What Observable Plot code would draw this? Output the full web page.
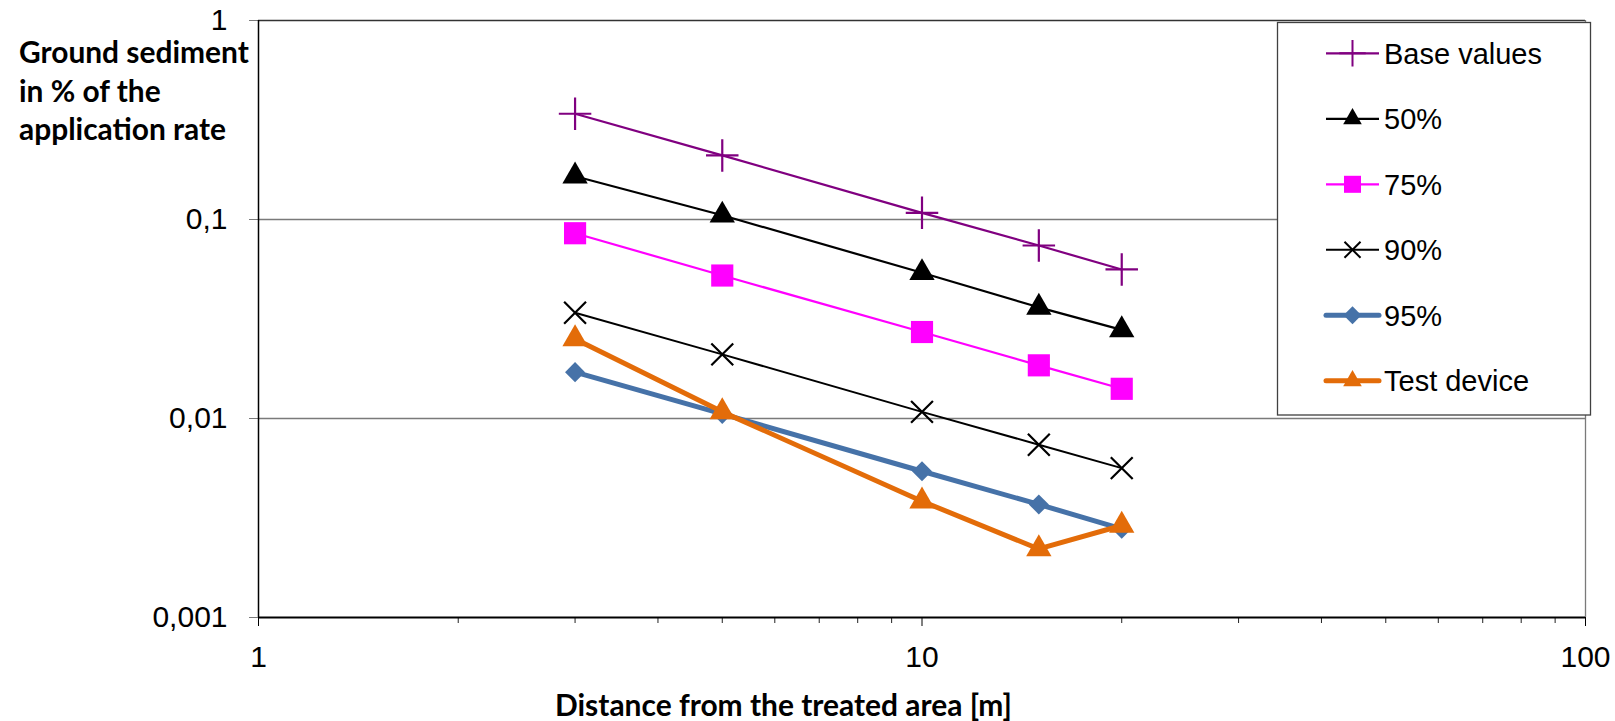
<!DOCTYPE html>
<html>
<head>
<meta charset="utf-8">
<script src="https://cdn.jsdelivr.net/npm/d3@7"></script>
<script src="https://cdn.jsdelivr.net/npm/@observablehq/plot@0.6"></script>
<style>
  html, body { margin: 0; padding: 0; background: #ffffff; }
  #wrap { position: relative; width: 1615px; height: 721px; overflow: hidden; }
  #overlay { position: absolute; left: 0; top: 0; pointer-events: none; }
</style>
</head>
<body>
<div id="wrap"></div>
<script>
// ---------- data ----------
const distances   = [3, 5, 10, 15, 20];
const baseValues  = [0.340, 0.210, 0.108, 0.0740, 0.0561];
const pct50       = [0.165, 0.105, 0.0540, 0.0362, 0.0279];
const pct75       = [0.0853, 0.0523, 0.0272, 0.0185, 0.0141];
const pct90       = [0.0340, 0.0210, 0.0108, 0.00738, 0.00563];
const pct95       = [0.0171, 0.01055, 0.00543, 0.00370, 0.00279];
const testDevice  = [0.0251, 0.0108, 0.00384, 0.00221, 0.00290];
const seriesNames = ["Base values", "50%", "75%", "90%", "95%", "Test device"];
const seriesValues = [baseValues, pct50, pct75, pct90, pct95, testDevice];

const xMajorTicks = [1, 10, 100];
const xMinorTicks = [2, 3, 4, 5, 6, 7, 8, 9, 20, 30, 40, 50, 60, 70, 80, 90];
const yTicks = [0.001, 0.01, 0.1, 1];
const yGrid = [0.01, 0.1];

const yTitleLines = ["Ground sediment", "in % of the", "application rate"];
const xTitle = "Distance from the treated area [m]";

// ---------- styles ----------
const diamondSymbol = {
  draw(context, size) {
    const r = Math.sqrt(size / 2);
    context.moveTo(0, -r); context.lineTo(r, 0); context.lineTo(0, r); context.lineTo(-r, 0); context.closePath();
  }
};
const styles = [
  {color: "#800080", width: 2.2, symbol: "plus",     r: 10.5, filled: false, legendSize: 230, legendSym: d3.symbolPlus},
  {color: "#000000", width: 2.2, symbol: "triangle", r: 9.4,  filled: true,  legendSize: 150, legendSym: d3.symbolTriangle},
  {color: "#FF00FF", width: 2.2, symbol: "square",   r: 12.5, filled: true,  legendSize: 290, legendSym: d3.symbolSquare},
  {color: "#000000", width: 2.0, symbol: "times",    r: 10,   filled: false, legendSize: 170, legendSym: d3.symbolTimes},
  {color: "#4672A8", width: 5.0, symbol: diamondSymbol, r: 8, filled: true,  legendSize: 160, legendSym: diamondSymbol},
  {color: "#E36C09", width: 5.0, symbol: "triangle", r: 9.4,  filled: true,  legendSize: 150, legendSym: d3.symbolTriangle}
];

// ---------- chart ----------
const seriesMarks = [];
seriesNames.forEach((name, i) => {
  const rows = distances.map((d, j) => ({series: name, x: d, y: seriesValues[i][j]}));
  const s = styles[i];
  seriesMarks.push(Plot.line(rows, {x: "x", y: "y", stroke: s.color, strokeWidth: s.width, strokeLinejoin: "round", strokeLinecap: "round"}));
  seriesMarks.push(Plot.dot(rows, s.filled
    ? {x: "x", y: "y", symbol: s.symbol, r: s.r, fill: s.color, stroke: "none"}
    : {x: "x", y: "y", symbol: s.symbol, r: s.r, fill: "none", stroke: s.color, strokeWidth: 2.2}));
});

const chart = Plot.plot({
  width: 1615,
  height: 721,
  marginLeft: 258,
  marginRight: 30,
  marginTop: 20,
  marginBottom: 104,
  style: {fontFamily: "'Liberation Sans', Arial, sans-serif", fontSize: "30px", color: "#000", background: "#fff", overflow: "visible"},
  x: {type: "log", domain: [1, 100]},
  y: {type: "log", domain: [0.001, 1]},
  marks: [
    Plot.ruleY(yGrid, {stroke: "#7a7a7a", strokeWidth: 1.3}),
    Plot.ruleY([1], {stroke: "#333", strokeWidth: 1.6}),
    Plot.ruleX([100], {stroke: "#7a7a7a", strokeWidth: 1.3}),
    Plot.axisY({ticks: yTicks, tickFormat: d => String(d).replace(".", ","), tickSize: 9, tickPadding: 22, fontSize: 30, label: null, stroke: "#7a7a7a", fill: "#000"}),
    Plot.axisX({ticks: xMinorTicks, tickSize: 6, tickFormat: () => "", label: null, stroke: "#222"}),
    Plot.axisX({ticks: xMajorTicks, tickSize: 9, tickPadding: 19, tickFormat: d => String(d), fontSize: 30, label: null, stroke: "#000", fill: "#000"}),
    Plot.ruleX([1], {stroke: "#000", strokeWidth: 1.5}),
    Plot.ruleY([0.001], {stroke: "#000", strokeWidth: 1.8}),
    ...seriesMarks
  ]
});
document.getElementById("wrap").appendChild(chart);

// ---------- overlay: titles + legend ----------
const ns = "http://www.w3.org/2000/svg";
const ov = d3.select("#wrap").append("svg")
  .attr("id", "overlay").attr("xmlns", ns)
  .attr("width", 1615).attr("height", 721);

function fitText(sel, targetWidth) {
  sel.attr("font-size", 100);
  const w = sel.node().getComputedTextLength();
  sel.attr("font-size", 100 * targetWidth / w);
}

const titleFont = "Lato, 'Open Sans', sans-serif";
const yBaselines = [63.3, 101.7, 139.5];
const yWidths = [230, 139, 208];
const firstSel = ov.append("text").attr("x", 19).attr("y", yBaselines[0])
  .attr("font-family", titleFont).attr("font-weight", 700).attr("fill", "#000").text(yTitleLines[0]);
fitText(firstSel, yWidths[0]);
const yFs = +firstSel.attr("font-size");
yTitleLines.slice(1).forEach((t, i) => {
  ov.append("text").attr("x", 19).attr("y", yBaselines[i + 1])
    .attr("font-family", titleFont).attr("font-weight", 700).attr("font-size", yFs)
    .attr("fill", "#000").text(t);
});

const xt = ov.append("text").attr("x", 555).attr("y", 715.5)
  .attr("font-family", titleFont).attr("font-weight", 700).attr("fill", "#000").text(xTitle);
fitText(xt, 457);

// legend
const lg = ov.append("g");
lg.append("rect").attr("x", 1277.5).attr("y", 22.5).attr("width", 313).attr("height", 392.5)
  .attr("fill", "#fff").attr("stroke", "#404040").attr("stroke-width", 1.3);
const rowY0 = 53.3, rowStep = 65.5;
seriesNames.forEach((name, i) => {
  const s = styles[i];
  const cy = rowY0 + i * rowStep;
  lg.append("line").attr("x1", 1326).attr("x2", 1379).attr("y1", cy).attr("y2", cy)
    .attr("stroke", s.color).attr("stroke-width", s.width).attr("stroke-linecap", s.width > 3 ? "round" : "butt");
  const path = d3.symbol().type(s.legendSym).size(s.legendSize)();
  const p = lg.append("path").attr("d", path).attr("transform", `translate(1352.5,${cy})`);
  if (s.filled) p.attr("fill", s.color).attr("stroke", "none");
  else p.attr("fill", "none").attr("stroke", s.color).attr("stroke-width", 2);
  lg.append("text").attr("x", 1384).attr("y", cy + 10.3)
    .attr("font-family", "'Liberation Sans', Arial, sans-serif").attr("font-size", 29)
    .attr("fill", "#000").text(name);
});
</script>
</body>
</html>
